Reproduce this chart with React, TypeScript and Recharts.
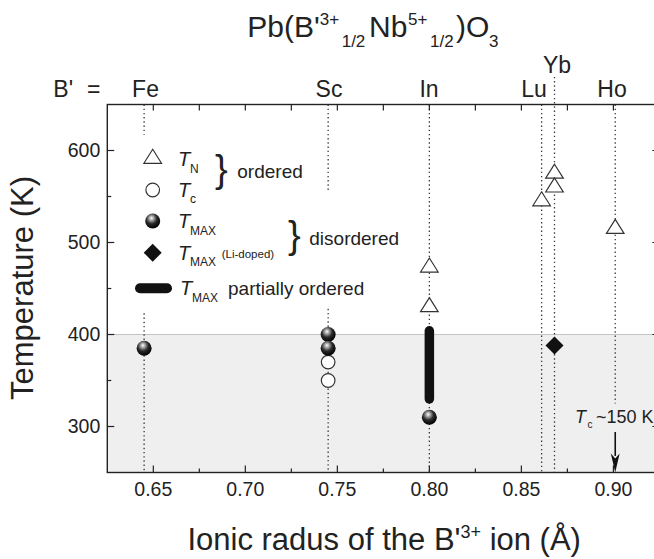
import React from "react";
import {
  ComposedChart,
  Scatter,
  XAxis,
  YAxis,
  ReferenceLine,
  ReferenceArea,
  ReferenceDot,
} from "recharts";

const FONT = "'Liberation Sans', Arial, Helvetica, sans-serif";
const INK = "#222222";
const THIN = 0.01; // axes take (almost) no room, plot area is set by margins

const CHART_W = 670;
const CHART_H = 559;
const PLOT = { left: 107.3, top: 104.5, right: 659.4, bottom: 472.5 };

const X_DOMAIN = [0.625, 0.925];
const Y_DOMAIN = [250, 650];

// axis ticks
const xMajorTicks = [0.65, 0.7, 0.75, 0.8, 0.85, 0.9];
const xMinorTicks = [0.675, 0.725, 0.775, 0.825, 0.875];
const xTopTicks = [0.65, 0.675, 0.7, 0.725, 0.75, 0.775, 0.8, 0.825, 0.85, 0.875, 0.9];
const yMajorTicks = [300, 400, 500, 600];
const yMinorTicks = [350, 450, 550];

// T_N (ordered), open triangles
const tnRadius = [0.8, 0.8, 0.861, 0.868, 0.868, 0.901];
const tnTemp = [473, 430, 545, 575, 560, 515];
// T_c (ordered), open circles
const tcRadius = [0.745, 0.745];
const tcTemp = [370, 350];
// T_MAX (disordered), spheres
const tmaxRadius = [0.645, 0.745, 0.745, 0.8];
const tmaxTemp = [385, 400, 385, 310];
// T_MAX Li-doped, diamond
const liRadius = [0.868];
const liTemp = [388];
// T_MAX partially ordered, thick bar
const partialRadius = [0.8, 0.8];
const partialTemp = [330, 404];

// dotted guide lines for each B' ion (Fe, Fe, Sc, Sc, In, Lu, Yb, Ho)
const guideRadius = [0.645, 0.645, 0.745, 0.745, 0.8, 0.861, 0.868, 0.901];
const guideFrom = [650, 423, 650, 428, 650, 650, 680, 650];
const guideTo = [617, 250, 554, 250, 250, 250, 250, 325];

// ions labelled on top
const ionNames = ["Fe", "Sc", "In", "Lu", "Yb", "Ho"];
const ionLabelX = [145.5, 329, 429, 534, 557, 612];
const ionLabelY = [96.7, 96.7, 96.7, 96.7, 73, 96.7];

// grey band below 400 K
const bandFrom = 250;
const bandTo = 400;

// Tc ~150 K arrow for Ho
const arrowRadius = 0.901;
const arrowFrom = 294;
const arrowTo = 268;
const arrowTip = 250;

const pts = (xs: number[], ys: number[]) => xs.map((x, i) => ({ x, y: ys[i] }));

// same linear mapping as the chart's axes, for the frame ticks
const sx = (v: number) =>
  PLOT.left + ((v - X_DOMAIN[0]) / (X_DOMAIN[1] - X_DOMAIN[0])) * (PLOT.right - PLOT.left);
const sy = (v: number) =>
  PLOT.bottom - ((v - Y_DOMAIN[0]) / (Y_DOMAIN[1] - Y_DOMAIN[0])) * (PLOT.bottom - PLOT.top);

const Tri = ({ cx, cy }: any) => (
  <polygon
    points={`${cx},${cy - 9.3} ${cx + 8.8},${cy + 4.7} ${cx - 8.8},${cy + 4.7}`}
    fill="#fff"
    stroke="#333"
    strokeWidth={1.2}
  />
);
const Ring = ({ cx, cy }: any) => (
  <circle cx={cx} cy={cy} r={6.8} fill="#fff" stroke="#333" strokeWidth={1.2} />
);
const Ball = ({ cx, cy, id = "ball" }: any) => (
  <circle cx={cx} cy={cy} r={7.5} fill={`url(#${id})`} />
);
const Diamond = ({ cx, cy }: any) => (
  <polygon
    points={`${cx},${cy - 9} ${cx + 9},${cy} ${cx},${cy + 9} ${cx - 9},${cy}`}
    fill="#111"
  />
);
const ArrowHead = ({ cx, cy }: any) => (
  <polygon
    points={`${cx},${cy} ${cx - 4.4},${cy - 19} ${cx},${cy - 14} ${cx + 4.4},${cy - 19}`}
    fill="#111"
  />
);

const BallGradient = ({ id }: { id: string }) => (
  <radialGradient id={id} cx="0.42" cy="0.35" r="0.65" fx="0.42" fy="0.3">
    <stop offset="0" stopColor="#ffffff" />
    <stop offset="0.18" stopColor="#b8b8b8" />
    <stop offset="0.55" stopColor="#2a2a2a" />
    <stop offset="1" stopColor="#000000" />
  </radialGradient>
);

const tickStyle = { fill: "#222", fontSize: 19.5, fontFamily: FONT };

function Frame() {
  const t = { stroke: "#222", strokeWidth: 1.2 };
  return (
    <g>
      <rect
        x={PLOT.left}
        y={PLOT.top}
        width={PLOT.right - PLOT.left}
        height={PLOT.bottom - PLOT.top}
        fill="none"
        stroke="#222"
        strokeWidth={1.4}
      />
      {xMajorTicks.map((v) => (
        <line key={`bM${v}`} x1={sx(v)} x2={sx(v)} y1={PLOT.bottom} y2={PLOT.bottom - 7} {...t} />
      ))}
      {xMinorTicks.map((v) => (
        <line key={`bm${v}`} x1={sx(v)} x2={sx(v)} y1={PLOT.bottom} y2={PLOT.bottom - 4} {...t} />
      ))}
      {xTopTicks.map((v) => (
        <line key={`t${v}`} x1={sx(v)} x2={sx(v)} y1={PLOT.top} y2={PLOT.top + 6} {...t} />
      ))}
      {yMajorTicks.map((v) => (
        <line key={`lM${v}`} x1={PLOT.left} x2={PLOT.left + 7} y1={sy(v)} y2={sy(v)} {...t} />
      ))}
      {yMinorTicks.map((v) => (
        <line key={`lm${v}`} x1={PLOT.left} x2={PLOT.left + 4} y1={sy(v)} y2={sy(v)} {...t} />
      ))}
      {yMajorTicks.map((v) => (
        <line key={`rM${v}`} x1={PLOT.right} x2={PLOT.right - 7} y1={sy(v)} y2={sy(v)} {...t} />
      ))}
      {yMinorTicks.map((v) => (
        <line key={`rm${v}`} x1={PLOT.right} x2={PLOT.right - 4} y1={sy(v)} y2={sy(v)} {...t} />
      ))}
    </g>
  );
}

function Overlay() {
  const T = (x: number, y: number, sub: string, subY: number, subSize = 12) => (
    <>
      <text x={x} y={y} fontSize={20} fontStyle="italic">T</text>
      <text x={x + 12} y={subY} fontSize={subSize}>{sub}</text>
    </>
  );
  return (
    <svg
      width={654}
      height={559}
      style={{ position: "absolute", left: 0, top: 0, pointerEvents: "none" }}
      fontFamily={FONT}
      fill="#222"
    >
      <defs>
        <BallGradient id="ballLegend" />
      </defs>
      <Frame />

      {/* title */}
      <text x={247.3} y={36.7} fontSize={30}>
        Pb(B'
        <tspan fontSize={17} dy={-11.7}>3+</tspan>
        <tspan fontSize={17} x={341.7} dy={21.7}>1/2</tspan>
        <tspan fontSize={30} x={369} dy={-10}>Nb</tspan>
        <tspan fontSize={17} x={408} dy={-11.7}>5+</tspan>
        <tspan fontSize={17} x={430} dy={21.7}>1/2</tspan>
        <tspan fontSize={30} x={456} dy={-10}>)O</tspan>
        <tspan fontSize={17} x={489} dy={10}>3</tspan>
      </text>

      {/* B' = ion labels */}
      <text x={53.3} y={96.7} fontSize={23}>B'</text>
      <text x={87} y={96.7} fontSize={23}>=</text>
      {ionNames.map((n, i) => (
        <text key={n} x={ionLabelX[i]} y={ionLabelY[i]} fontSize={23} textAnchor="middle">
          {n}
        </text>
      ))}

      {/* legend */}
      <Tri cx={152.7} cy={158.6} />
      {T(178, 166, "N", 172.5)}
      <Ring cx={152.7} cy={190} />
      {T(178, 196.7, "c", 203)}
      <text x={215} y={182.4} fontSize={38}>{"}"}</text>
      <text x={237.3} y={178.3} fontSize={19}>ordered</text>

      <Ball cx={152.7} cy={221} id="ballLegend" />
      {T(178, 228.3, "MAX", 235)}
      <Diamond cx={152.7} cy={252.7} />
      {T(178, 260, "MAX", 266)}
      <text x={221.7} y={258} fontSize={11.5}>(Li-doped)</text>
      <text x={288} y={248} fontSize={38}>{"}"}</text>
      <text x={309.3} y={245} fontSize={19}>disordered</text>

      <line x1={140} x2={167} y1={288.3} y2={288.3} stroke="#111" strokeWidth={10} strokeLinecap="round" />
      {T(180, 295, "MAX", 301.5)}
      <text x={228} y={295} fontSize={19}>partially ordered</text>

      {/* Tc ~150 K annotation */}
      <text x={575} y={423} fontSize={18} fontStyle="italic">T</text>
      <text x={587.5} y={428} fontSize={10}>c</text>
      <text x={596} y={423} fontSize={18}>~150 K</text>

      {/* axis titles */}
      <text
        x={32.7}
        y={288}
        fontSize={31}
        textAnchor="middle"
        transform="rotate(-90 32.7 288)"
      >
        Temperature (K)
      </text>
      <text x={384.2} y={550} fontSize={31} textAnchor="middle">
        Ionic radus of the B'
        <tspan fontSize={18} dy={-11.7}>3+</tspan>
        <tspan dy={11.7}>{" ion (Å)"}</tspan>
      </text>
    </svg>
  );
}

export default function App() {
  const ax = { xAxisId: "b", yAxisId: "l" } as const;
  return (
    <div
      style={{
        position: "fixed",
        left: 0,
        top: 0,
        width: 654,
        height: 559,
        overflow: "hidden",
        background: "#fff",
      }}
    >
      <ComposedChart
        width={CHART_W}
        height={CHART_H}
        margin={{
          top: PLOT.top,
          right: CHART_W - PLOT.right,
          bottom: CHART_H - PLOT.bottom - THIN,
          left: PLOT.left - THIN,
        }}
      >
        <defs>
          <BallGradient id="ball" />
        </defs>

        <XAxis
          xAxisId="b"
          dataKey="x"
          type="number"
          domain={X_DOMAIN}
          allowDataOverflow
          ticks={xMajorTicks}
          interval={0}
          tickFormatter={(v: number) => v.toFixed(2)}
          tick={tickStyle}
          tickLine={false}
          tickSize={0}
          tickMargin={9.7}
          axisLine={false}
          height={THIN}
        />
        <YAxis
          yAxisId="l"
          dataKey="y"
          type="number"
          domain={Y_DOMAIN}
          allowDataOverflow
          ticks={yMajorTicks}
          interval={0}
          tick={tickStyle}
          tickLine={false}
          tickSize={0}
          tickMargin={7}
          axisLine={false}
          width={THIN}
        />

        <ReferenceArea
          {...ax}
          y1={bandFrom}
          y2={bandTo}
          fill="#efefef"
          fillOpacity={1}
          stroke="none"
          ifOverflow="hidden"
        />
        <ReferenceLine {...ax} y={bandTo} stroke="#c4c4c4" strokeWidth={1.2} />

        {guideRadius.map((r, i) => (
          <ReferenceLine
            key={`g${i}`}
            {...ax}
            segment={[
              { x: r, y: guideFrom[i] },
              { x: r, y: guideTo[i] },
            ]}
            stroke="#3a3a3a"
            strokeWidth={1.3}
            strokeDasharray="1.4 2.8"
            ifOverflow="visible"
          />
        ))}

        <ReferenceLine
          {...ax}
          segment={pts(partialRadius, partialTemp)}
          stroke="#111"
          strokeWidth={9.5}
          strokeLinecap="round"
          ifOverflow="visible"
        />

        <ReferenceLine
          {...ax}
          segment={[
            { x: arrowRadius, y: arrowFrom },
            { x: arrowRadius, y: arrowTo },
          ]}
          stroke="#111"
          strokeWidth={1.6}
          ifOverflow="visible"
        />
        <ReferenceDot {...ax} x={arrowRadius} y={arrowTip} shape={ArrowHead} ifOverflow="visible" />

        <Scatter {...ax} data={pts(tnRadius, tnTemp)} shape={Tri} isAnimationActive={false} />
        <Scatter {...ax} data={pts(tcRadius, tcTemp)} shape={Ring} isAnimationActive={false} />
        <Scatter
          {...ax}
          data={pts(tmaxRadius, tmaxTemp)}
          shape={(p: any) => <Ball cx={p.cx} cy={p.cy} />}
          isAnimationActive={false}
        />
        <Scatter {...ax} data={pts(liRadius, liTemp)} shape={Diamond} isAnimationActive={false} />
      </ComposedChart>
      <Overlay />
    </div>
  );
}
